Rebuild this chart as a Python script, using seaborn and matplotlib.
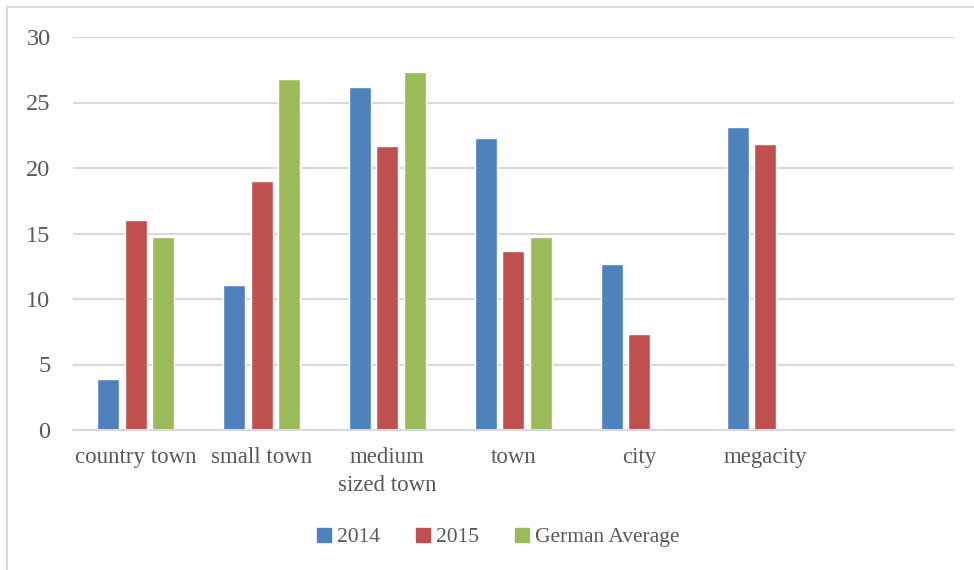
import numpy as np
import pandas as pd
import matplotlib
matplotlib.use("Agg")
import matplotlib.pyplot as plt
from matplotlib.lines import Line2D
import seaborn as sns

categories = ["country town", "small town", "medium\nsized town", "town", "city", "megacity", " "]
years_2014 = [3.9, 11.1, 26.2, 22.3, 12.7, 23.1]
years_2015 = [16.0, 19.0, 21.7, 13.7, 7.3, 21.8]
german_avg = [14.7, 26.8, 27.3, 14.7, np.nan, np.nan]
series_names = ["2014", "2015", "German Average"]
colors = ["#4F81BD", "#C0504D", "#9BBB59"]

rows = []
for name, vals in zip(series_names, [years_2014, years_2015, german_avg]):
    for cat, v in zip(categories, vals):
        if not np.isnan(v):
            rows.append({"category": cat, "series": name, "value": v})
df = pd.DataFrame(rows)

sns.set_theme(style="white")
plt.rcParams["font.family"] = ["Liberation Serif", "DejaVu Serif"]
text_color = "#595959"
grid_color = "#D9D9D9"

fig = plt.figure(figsize=(9.74, 5.70), dpi=100)
ax = fig.add_axes([72.7 / 974, 1 - 430 / 570, (954 - 72.7) / 974, (430 - 37) / 570])

sns.barplot(data=df, x="category", y="value", hue="series", order=categories,
            hue_order=series_names, palette=colors, width=0.655, gap=0.2,
            saturation=1, ax=ax, legend=False, errorbar=None)

ax.set_xlim(-0.5, len(categories) - 0.5)
ax.set_ylim(0, 30)
ax.set_yticks(range(0, 31, 5))
ax.yaxis.grid(True, color=grid_color, linewidth=1.5)
ax.set_axisbelow(True)
for s in ["top", "right", "left"]:
    ax.spines[s].set_visible(False)
ax.spines["bottom"].set_color(grid_color)
ax.spines["bottom"].set_linewidth(1.5)
ax.tick_params(axis="x", length=0, labelsize=16.5, colors=text_color, pad=12)
ax.tick_params(axis="y", length=0, labelsize=17.5, colors=text_color, pad=16)
ax.set_xlabel("")
ax.set_ylabel("")
for lbl in ax.get_xticklabels():
    lbl.set_verticalalignment("top")
    lbl.set_linespacing(1.45)

handles = [Line2D([0], [0], marker="s", color="none", markerfacecolor=c,
                  markeredgecolor=c, markersize=10) for c in colors]
fig.legend(handles, series_names, loc="center", bbox_to_anchor=(0.51, 1 - 537 / 570),
           ncol=3, frameon=False, fontsize=15.5, labelcolor=text_color,
           handletextpad=0.1, columnspacing=1.5, handlelength=1.0)

# outer chart border (top and left edges visible in crop)
fig.add_artist(Line2D([7 / 974, 1], [1 - 7 / 570, 1 - 7 / 570], color=grid_color, linewidth=1.5))
fig.add_artist(Line2D([7 / 974, 7 / 974], [0, 1 - 7 / 570], color=grid_color, linewidth=1.5))

fig.savefig("out.png", dpi=100)
